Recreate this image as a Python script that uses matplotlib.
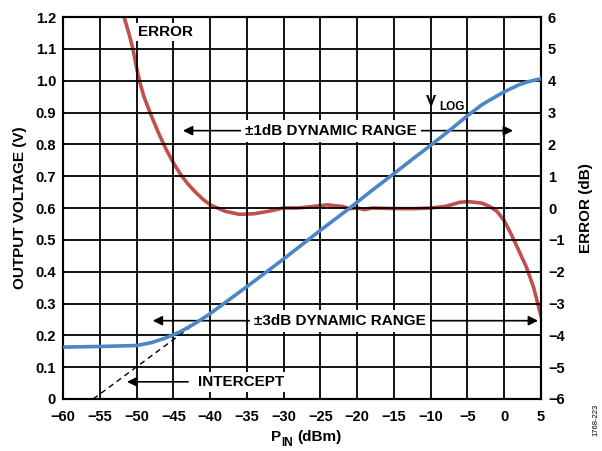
import numpy as np
import matplotlib.pyplot as plt

plt.rcParams['font.family'] = ['Liberation Sans', 'DejaVu Sans']
plt.rcParams['font.weight'] = 'bold'

# VLOG output voltage vs input power
vlog_pin = [-60, -55, -50, -48, -46, -44, -42, -40, -38, -35, -32, -30, -27, -25,
            -21, -18, -15, -12, -10, -7, -5, -3, -1, 0, 1, 2, 3, 4, 5]
vlog_v = [0.163, 0.165, 0.168, 0.177, 0.192, 0.212, 0.238, 0.268, 0.302, 0.353, 0.405,
          0.440, 0.494, 0.530, 0.600, 0.655, 0.708, 0.762, 0.797, 0.852, 0.890, 0.925,
          0.952, 0.965, 0.976, 0.987, 0.995, 1.001, 1.006]

# log conformance error (dB)
err_pin = [-51.7, -51, -50.5, -50, -49.5, -49, -48, -47, -46, -45, -44, -43, -42, -41, -40,
           -39, -38, -36, -34, -32, -30, -28, -26, -24, -23, -22, -21, -20, -19, -18, -15,
           -12, -10, -8, -6, -5, -4, -3, -2, -1, 0, 1, 2, 3, 4, 5]
err_db = [6.0, 5.45, 5.0, 4.4, 3.9, 3.5, 2.9, 2.35, 1.85, 1.42, 1.05, 0.75, 0.5, 0.28, 0.1,
          0.0, -0.1, -0.2, -0.18, -0.1, 0.0, 0.0, 0.05, 0.1, 0.07, 0.05, -0.02, 0.0, -0.05,
          0.0, -0.02, -0.02, 0.0, 0.05, 0.18, 0.2, 0.18, 0.15, 0.05, -0.1, -0.4, -0.85,
          -1.35, -1.85, -2.5, -3.4]

# extrapolated intercept line
icpt_pin = [-55.9, -41.4]
icpt_v = [0.0, 0.248]

xticks = list(range(-60, 6, 5))
yticks_l = [round(0.1 * i, 1) for i in range(13)]
yticks_r = list(range(-6, 7))

fig = plt.figure(figsize=(6.02, 4.51), dpi=100)
ax = fig.add_axes([0.1047, 0.1153, 0.794, 0.847])
ax2 = ax.twinx()

ax.set_xlim(-60, 5)
ax.set_ylim(0, 1.2)
ax2.set_ylim(-6, 6)
ax.set_xticks(xticks)
ax.set_xticklabels([str(t).replace('-', '\u2212') for t in xticks])
ax.set_yticks(yticks_l)
ax.set_yticklabels(['0' if v == 0 else f'{v:.1f}' for v in yticks_l])
ax2.set_yticks(yticks_r)
ax2.set_yticklabels([str(t).replace('-', '\u2212') for t in yticks_r])
ax.grid(True, color='black', linewidth=1.3)
for a in (ax, ax2):
    a.tick_params(length=0, labelsize=10.5, pad=5)
    for s in a.spines.values():
        s.set_linewidth(1.5)
ax.tick_params(axis='x', pad=8)

ax.plot(icpt_pin, icpt_v, color='black', linestyle=(0, (4, 3)), linewidth=1.0, zorder=3)
ax.plot(vlog_pin, vlog_v, color='#4a86c8', linewidth=2.6, zorder=5)
ax2.plot(err_pin, err_db, color='#c0504d', linewidth=2.6, zorder=5)

fs = 11
txt = dict(fontsize=fs, fontweight='bold', ha='center', va='center')
arrow = dict(arrowstyle='-|>', color='black', lw=1.2, mutation_scale=14, shrinkA=0, shrinkB=0)

ax.text(-46.0, 1.154, 'ERROR', bbox=dict(facecolor='white', edgecolor='none', pad=1.5), **txt, zorder=4)
ax.text(-10.6, 0.937, 'V', fontsize=fs, fontweight='bold', ha='left', va='center', zorder=4)
ax.text(-8.9, 0.918, 'LOG', fontsize=8.5, fontweight='bold', ha='left', va='center', zorder=4)

ax.annotate('', xy=(-43.7, 0.843), xytext=(-23.6, 0.843), arrowprops=arrow, zorder=4)
ax.annotate('', xy=(1.2, 0.843), xytext=(-23.6, 0.843), arrowprops=arrow, zorder=4)
ax.text(-23.6, 0.843, '\u00b11dB DYNAMIC RANGE', bbox=dict(facecolor='white', edgecolor='none', pad=3), **txt, zorder=4)

ax.annotate('', xy=(-47.8, 0.246), xytext=(-22.3, 0.246), arrowprops=arrow, zorder=4)
ax.annotate('', xy=(4.6, 0.246), xytext=(-22.3, 0.246), arrowprops=arrow, zorder=4)
ax.text(-22.3, 0.246, '\u00b13dB DYNAMIC RANGE', bbox=dict(facecolor='white', edgecolor='none', pad=3), **txt, zorder=4)

ax.annotate('', xy=(-51.3, 0.054), xytext=(-43.0, 0.054), arrowprops=arrow, zorder=4)
ax.text(-41.6, 0.054, 'INTERCEPT', fontsize=fs, fontweight='bold', ha='left', va='center',
        bbox=dict(facecolor='white', edgecolor='none', pad=2), zorder=4)

ax.set_zorder(ax2.get_zorder() + 1)
ax.patch.set_visible(False)

# x axis label with subscript
fig.text(0.4675, 0.022, 'P', fontsize=fs, fontweight='bold', ha='right', va='baseline')
fig.text(0.4675, 0.012, 'IN', fontsize=8.5, fontweight='bold', ha='left', va='baseline')
fig.text(0.4935, 0.022, '(dBm)', fontsize=fs, fontweight='bold', ha='left', va='baseline')
ax.set_ylabel('OUTPUT VOLTAGE (V)', fontsize=fs, fontweight='bold', labelpad=6)
ax2.set_ylabel('ERROR (dB)', fontsize=fs, fontweight='bold', labelpad=10)
fig.text(0.99, 0.07, '1768-223', rotation=90, fontsize=5.5, fontweight='normal', ha='center', va='center')

fig.savefig('out.png', dpi=100)
